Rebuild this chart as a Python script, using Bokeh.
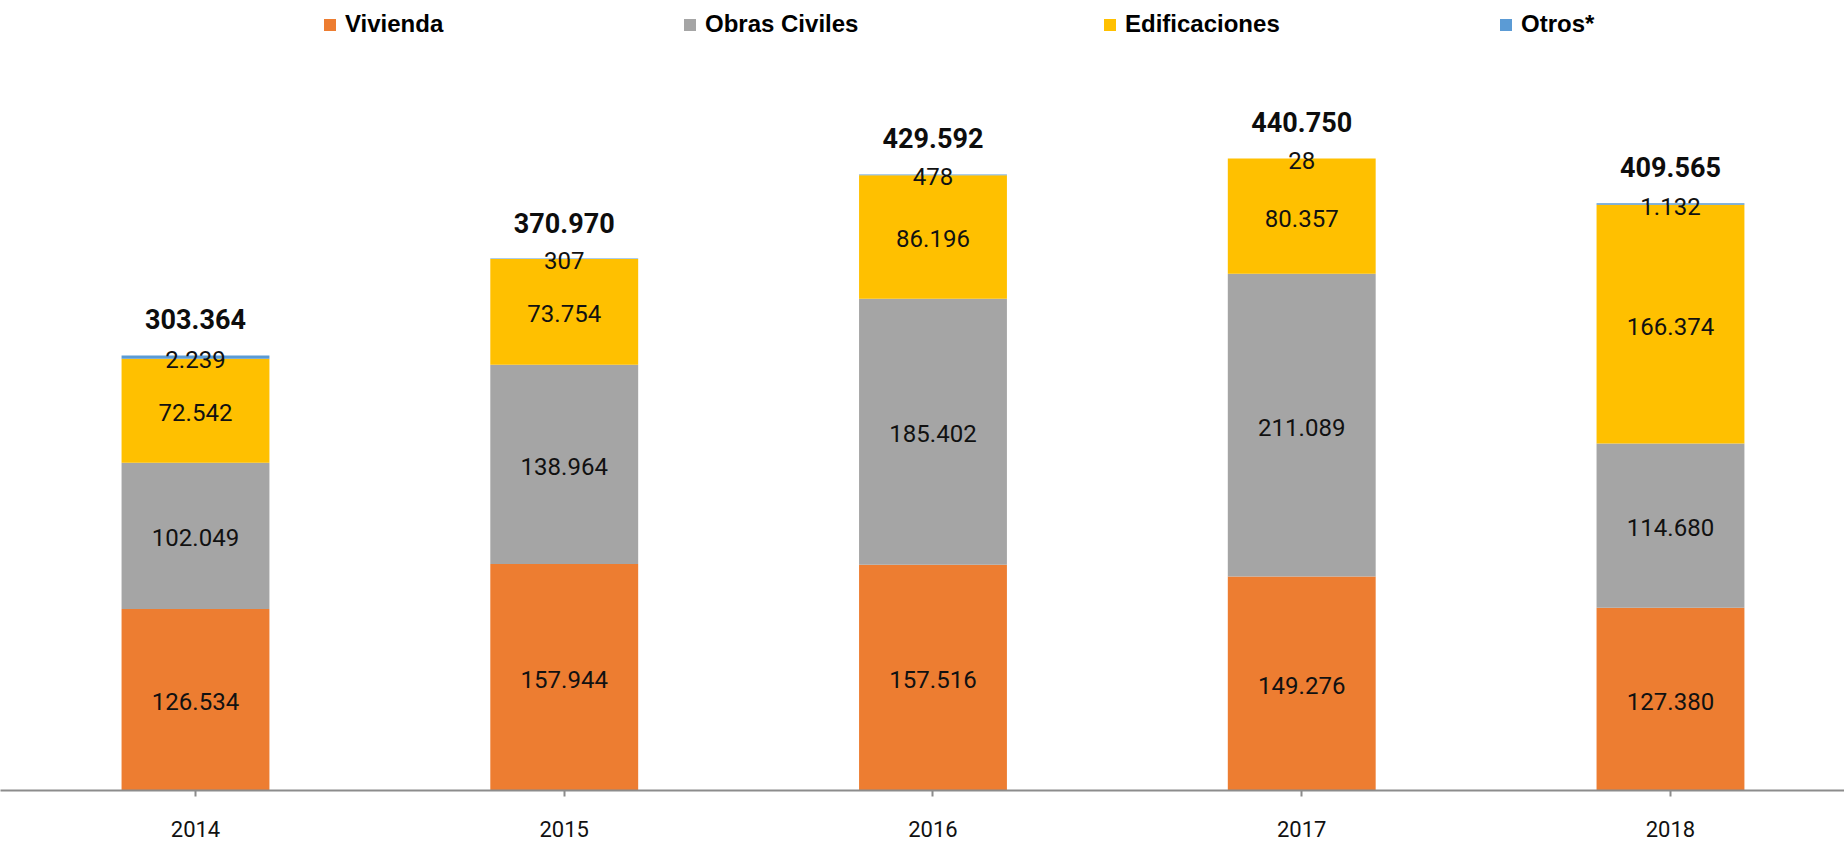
from bokeh.plotting import figure
from bokeh.models import ColumnDataSource, Range1d, FixedTicker, Legend, LegendItem
from bokeh.core.properties import value
from bokeh.embed import file_html
from bokeh.resources import INLINE

years = ["2014", "2015", "2016", "2017", "2018"]
vivienda = [126534, 157944, 157516, 149276, 127380]
obras_civiles = [102049, 138964, 185402, 211089, 114680]
edificaciones = [72542, 73754, 86196, 80357, 166374]
otros = [2239, 307, 478, 28, 1132]
totales = [303364, 370970, 429592, 440750, 409565]

series_names = ["Vivienda", "Obras Civiles", "Edificaciones", "Otros*"]
colors = ["#ED7D31", "#A5A5A5", "#FFC000", "#5B9BD5"]
keys = ["viv", "obr", "edi", "otr"]

FONT = "Roboto"

def fmt(v):
    return f"{v:,}".replace(",", ".")

xs = list(range(len(years)))
data = dict(x=xs, viv=vivienda, obr=obras_civiles, edi=edificaciones, otr=otros)
src = ColumnDataSource(data)

p = figure(width=1844, height=843, output_backend="svg", toolbar_location=None,
           x_range=Range1d(-0.5288, 4.4719), y_range=Range1d(0, 550935),
           min_border_left=0, min_border_right=0, min_border_top=0, min_border_bottom=53)
p.outline_line_color = None
p.xgrid.visible = False
p.ygrid.visible = False
p.yaxis.visible = False
p.background_fill_color = "white"
p.border_fill_color = "white"

renderers = p.vbar_stack(keys, x="x", width=0.401, color=colors, line_color=None, source=src)

# segment labels
lx, ly, lt = [], [], []
series = [vivienda, obras_civiles, edificaciones, otros]
for i in range(len(years)):
    base = 0
    for s in series:
        v = s[i]
        lx.append(i)
        ly.append(base + v / 2)
        lt.append(fmt(v))
        base += v
p.text(x=lx, y=ly, text=lt, text_align="center", text_baseline="middle",
       text_font=value(FONT), text_font_size="24px", text_color="#111111", y_offset=2)

# totals
p.text(x=xs, y=totales, text=[fmt(t) for t in totales], text_align="center",
       text_baseline="middle", text_font=value(FONT), text_font_size="27px",
       text_font_style="bold", text_color="#0d0d0d", y_offset=-36)

# x axis
ax = p.xaxis[0]
ax.ticker = FixedTicker(ticks=xs)
ax.major_label_overrides = {i: y for i, y in enumerate(years)}
ax.axis_line_color = "#8C8C8C"
ax.axis_line_width = 2
ax.major_tick_line_color = "#8C8C8C"
ax.major_tick_line_width = 2
ax.major_tick_in = 0
ax.major_tick_out = 6
ax.minor_tick_line_color = None
ax.major_label_text_font = FONT
ax.major_label_text_font_size = "22px"
ax.major_label_text_color = "#111111"
ax.major_label_standoff = 24

# legends, one per series, placed across the top
legend_x = [322, 682, 1102, 1498]
for name, r, lxp in zip(series_names, renderers, legend_x):
    lg = Legend(items=[LegendItem(label=name, renderers=[r])], location=(lxp, 752),
                orientation="horizontal", glyph_width=15, glyph_height=15,
                label_standoff=8, padding=0, margin=0, spacing=0,
                border_line_color=None, background_fill_alpha=0,
                label_text_font="Liberation Sans", label_text_font_style="bold",
                label_text_font_size="24px", label_text_color="#000000",
                label_height=15)
    p.add_layout(lg)

open("out.html", "w").write(file_html(p, INLINE))
